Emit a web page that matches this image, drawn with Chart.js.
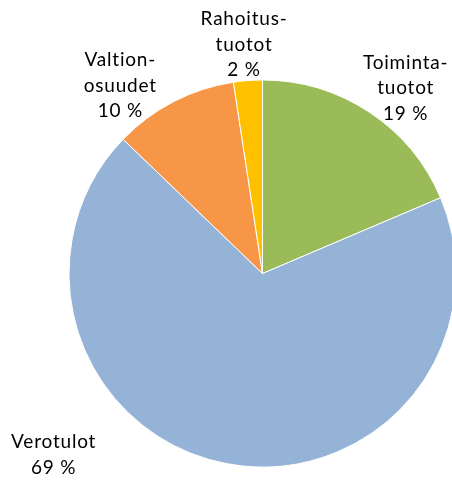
<!DOCTYPE html>
<html>
<head>
<meta charset="utf-8">
<script src="https://cdn.jsdelivr.net/npm/chart.js@4.4.1/dist/chart.umd.min.js"></script>
<style>
  html, body { margin: 0; padding: 0; background: #fff; overflow: hidden; }
  #wrap { position: relative; width: 470px; height: 480px; }
</style>
</head>
<body>
<div id="wrap"><canvas id="pie" width="470" height="480"></canvas></div>
<script>
// slices go clockwise from 12 o'clock
var categories = ['Toiminta-\ntuotot', 'Verotulot', 'Valtion-\nosuudet', 'Rahoitus-\ntuotot'];
var shares = [18.6, 68.6, 10.4, 2.4];
var sliceColors = ['#9BBB59', '#95B3D7', '#F79646', '#FFC000'];

// label placement: [angle in degrees clockwise from top, distance in radii]
var labelSpots = [[37.7, 1.21], [229, 1.43], [-37.1, 1.218], [-4.6, 1.187]];

var pieLabels = {
  id: 'pieLabels',
  afterDraw: function (chart) {
    var meta = chart.getDatasetMeta(0);
    var arc = meta.data[0];
    var cx = arc.x, cy = arc.y, r = arc.outerRadius;
    var ctx = chart.ctx;
    var lineH = 25.5;
    ctx.save();
    ctx.font = '19px Lato, "Open Sans", sans-serif';
    ctx.letterSpacing = '0.8px';
    ctx.fillStyle = '#000';
    ctx.textAlign = 'center';
    ctx.textBaseline = 'middle';
    categories.forEach(function (cat, i) {
      var a = labelSpots[i][0] * Math.PI / 180;
      var d = labelSpots[i][1] * r;
      var x = cx + Math.sin(a) * d;
      var y = cy - Math.cos(a) * d;
      var lines = cat.split('\n');
      lines.push(Math.round(shares[i]) + ' %');
      var top = y - (lines.length - 1) * lineH / 2;
      lines.forEach(function (t, k) {
        ctx.fillText(t, x, top + k * lineH);
      });
    });
    ctx.restore();
  }
};

new Chart(document.getElementById('pie'), {
  type: 'pie',
  data: {
    labels: categories,
    datasets: [{
      data: shares,
      backgroundColor: sliceColors,
      borderColor: '#ffffff',
      borderWidth: 1
    }]
  },
  options: {
    responsive: false,
    animation: false,
    layout: { padding: { left: 68.5, right: 13.5, top: 79.5, bottom: 12.5 } },
    plugins: {
      legend: { display: false },
      tooltip: { enabled: false }
    }
  },
  plugins: [pieLabels]
});
</script>
</body>
</html>
